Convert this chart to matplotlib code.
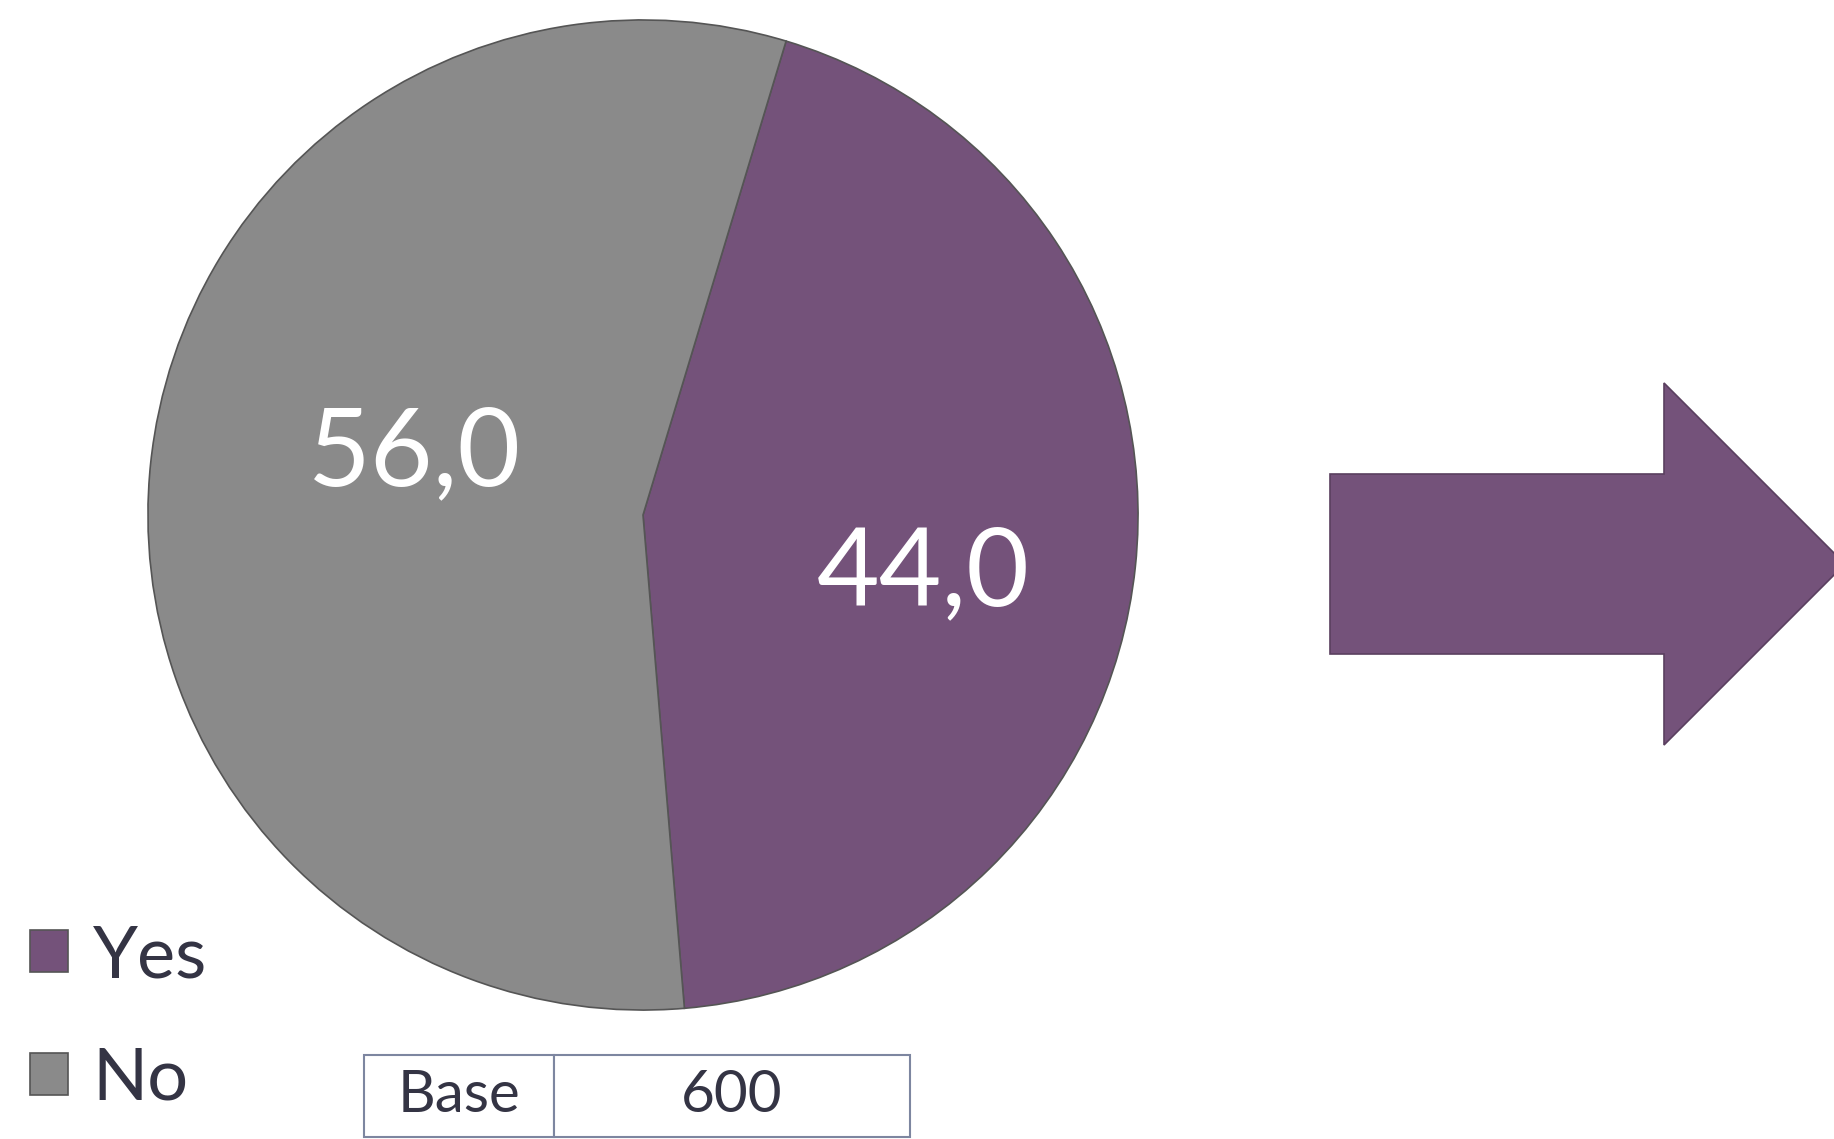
import matplotlib.pyplot as plt
from matplotlib.patches import Polygon

# Data
categories = ["Yes", "No"]
values = [44.0, 56.0]
value_labels = ["44,0", "56,0"]
base_label = "Base"
base_value = "600"

colors = ["#74527A", "#8A8A8A"]
text_color = "#343444"

plt.rcParams["font.family"] = ["Lato", "DejaVu Sans"]

W, H = 1834, 1139
fig = plt.figure(figsize=(W / 100, H / 100), dpi=100)

# Pie (centre 643,515 px from top-left, radius 500 px)
cx, cy, r = 643, 515, 500
ax = fig.add_axes([(cx - r) / W, (H - cy - r) / H, 2 * r / W, 2 * r / H])
wedges, _ = ax.pie(
    values,
    colors=colors,
    startangle=73.2,
    counterclock=False,
    radius=1.0,
    wedgeprops=dict(edgecolor="#555555", linewidth=1.2),
)
ax.set_xlim(-1.01, 1.01)
ax.set_ylim(-1.01, 1.01)
ax.set_aspect("equal")
ax.axis("off")

label_pos = [(0.566, -0.12), (-0.462, 0.122)]
for (x, y), lab in zip(label_pos, value_labels):
    ax.text(x, y, lab, ha="center", va="center", fontsize=78, color="white")

# Legend
fig.legend(
    wedges, categories,
    loc="upper left", bbox_to_anchor=(30 / W, 1 - 924 / H),
    frameon=False, fontsize=52, borderpad=0, borderaxespad=0,
    handlelength=0.52, handleheight=0.52, handletextpad=0.35,
    labelspacing=0.8, labelcolor=text_color,
)

# Arrow
arr = fig.add_axes([0, 0, 1, 1], zorder=-1)
arr.set_xlim(0, W)
arr.set_ylim(H, 0)
arr.axis("off")
shaft_l, shaft_t, shaft_b = 1330, 474, 654
head_x, head_t, head_b = 1664, 383, 745
tip_x = head_x + (head_b - head_t) / 2
mid_y = (head_t + head_b) / 2
pts = [(shaft_l, shaft_t), (head_x, shaft_t), (head_x, head_t), (tip_x, mid_y),
       (head_x, head_b), (head_x, shaft_b), (shaft_l, shaft_b)]
arr.add_patch(Polygon(pts, closed=True, facecolor="#74527A",
                      edgecolor="#5a3f5f", linewidth=1.2))

# Base table
tax = fig.add_axes([364 / W, 2 / H, 546 / W, 82 / H])
tax.axis("off")
tbl = tax.table(cellText=[[base_label, base_value]], bbox=[0, 0, 1, 1],
                colWidths=[190 / 546, 356 / 546], cellLoc="center")
tbl.auto_set_font_size(False)
for cell in tbl.get_celld().values():
    cell.set_edgecolor("#7d86a0")
    cell.set_linewidth(1.5)
    cell.get_text().set_fontsize(42)
    cell.get_text().set_color(text_color)

fig.savefig("out.png", dpi=100)
